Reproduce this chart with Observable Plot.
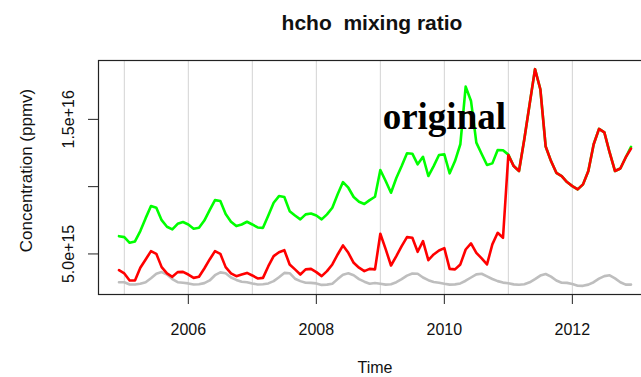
<!DOCTYPE html>
<html>
<head>
<meta charset="utf-8">
<script src="https://cdn.jsdelivr.net/npm/d3@7"></script>
<script src="https://cdn.jsdelivr.net/npm/@observablehq/plot@0.6"></script>
<style>
  body { margin: 0; background: #fff; }
  #chart { width: 641px; height: 377px; overflow: hidden; }
</style>
</head>
<body>
<div id="chart"></div>
<script>
// Monthly time series (ts start = Dec 2004, frequency 12); values in units of 1e15
const tsStartYear = 2004;
const tsStartMonth = 12;
const tsFrequency = 12;
const valueUnit = 1e15;

const greenSeries = [
  6.32, 6.25, 5.83, 5.93, 6.70, 7.66, 8.56, 8.43, 7.51, 7.02, 6.82, 7.24,
  7.37, 7.19, 6.87, 6.94, 7.48, 8.26, 9.00, 8.93, 7.96, 7.40, 7.07, 7.19,
  7.39, 7.19, 6.97, 6.94, 7.86, 8.80, 9.30, 9.23, 8.18, 7.86, 7.57, 7.94,
  8.01, 7.86, 7.57, 7.94, 8.43, 9.43, 10.34, 9.92, 9.23, 8.88, 8.71, 9.00,
  9.25, 11.24, 10.42, 9.55, 10.64, 11.53, 12.48, 12.45, 11.66, 12.22, 10.79, 11.53,
  12.35, 12.40, 10.99, 11.90, 13.15, 17.43, 16.37, 13.27, 12.43, 11.61, 11.73, 12.72,
  12.70, 12.38, 11.53, 11.16, 13.54, 16.15, 18.73, 17.24, 12.98, 11.90, 11.03, 10.79,
  10.34, 10.04, 9.80, 10.17, 11.16, 13.15, 14.29, 14.03, 12.52, 11.16, 11.35, 12.17,
  12.95
];

const redSeries = [
  3.79, 3.55, 3.03, 3.03, 3.97, 4.59, 5.21, 5.01, 4.02, 3.55, 3.30, 3.65,
  3.67, 3.47, 3.22, 3.30, 3.92, 4.59, 5.21, 5.01, 4.02, 3.55, 3.35, 3.47,
  3.59, 3.40, 3.18, 3.22, 4.09, 4.84, 5.13, 5.28, 4.22, 3.85, 3.47, 3.85,
  3.89, 3.65, 3.35, 3.72, 4.22, 4.96, 5.63, 5.08, 4.34, 3.98, 3.72, 3.89,
  3.85, 6.50, 5.36, 4.14, 4.84, 5.58, 6.25, 6.20, 5.16, 5.95, 4.54, 4.96,
  5.26, 5.43, 3.89, 3.85, 4.22, 5.33, 5.78, 5.08, 4.67, 4.22, 5.71, 6.57,
  6.20, 12.35, 11.53, 11.16, 13.54, 16.15, 18.73, 17.24, 12.98, 11.90, 11.03, 10.79,
  10.34, 10.04, 9.80, 10.17, 11.16, 13.15, 14.29, 14.03, 12.52, 11.16, 11.35, 12.17,
  12.83
];

const graySeries = [
  2.90, 2.90, 2.73, 2.73, 2.79, 2.90, 3.20, 3.53, 3.65, 3.47, 3.13, 2.90,
  2.86, 2.81, 2.73, 2.75, 2.83, 3.03, 3.42, 3.63, 3.57, 3.25, 3.07, 2.93,
  2.90, 2.81, 2.73, 2.75, 2.81, 2.98, 3.27, 3.59, 3.57, 3.16, 2.98, 2.86,
  2.85, 2.81, 2.70, 2.72, 2.78, 3.13, 3.46, 3.56, 3.42, 3.13, 2.94, 2.79,
  2.84, 2.78, 2.72, 2.75, 2.90, 3.13, 3.39, 3.55, 3.53, 3.25, 3.05, 2.92,
  2.86, 2.78, 2.72, 2.74, 2.81, 3.01, 3.25, 3.48, 3.53, 3.33, 3.14, 2.98,
  2.87, 2.82, 2.74, 2.71, 2.75, 2.89, 3.13, 3.39, 3.51, 3.31, 3.03, 2.86,
  2.85, 2.77, 2.64, 2.63, 2.72, 2.90, 3.16, 3.35, 3.41, 3.18, 2.90, 2.72,
  2.72
];

const xTicks = [2006, 2008, 2010, 2012];
const gridYears = [2005, 2006, 2007, 2008, 2009, 2010, 2011, 2012];
const yTicks = [5e15, 1e16, 1.5e16];
const yTickLabels = ["5.0e+15", "", "1.5e+16"];

const titleText = "hcho  mixing ratio";
const xLabelText = "Time";
const yLabelText = "Concentration (ppmv)";
const annotationText = "original";
const annotationX = 2010;
const annotationY = 1.5e16;

// build table
const t0 = tsStartYear + (tsStartMonth - 1) / tsFrequency;
const toRows = (vals) => vals.map((v, i) => ({ t: t0 + i / tsFrequency, v: v * valueUnit }));
const grayRows = toRows(graySeries);
const greenRows = toRows(greenSeries);
const redRows = toRows(redSeries);

// R-style 4% axis extension
const rExtend = ([a, b]) => { const d = (b - a) * 0.04; return [a - d, b + d]; };
const allRows = grayRows.concat(greenRows, redRows);
const xDomain = rExtend(d3.extent(allRows, d => d.t));
const yDomain = rExtend(d3.extent(allRows, d => d.v));

const sans = "Liberation Sans, Arial, Helvetica, sans-serif";

const chart = Plot.plot({
  width: 651,
  height: 377,
  marginLeft: 98,
  marginRight: 0,
  marginTop: 60,
  marginBottom: 83,
  style: { fontFamily: sans, maxWidth: "none", background: "#fff" },
  x: { domain: xDomain },
  y: { domain: yDomain },
  marks: [
    Plot.ruleX(gridYears, { stroke: "#d3d3d3", strokeWidth: 1 }),
    Plot.line(grayRows, { x: "t", y: "v", stroke: "#bebebe", strokeWidth: 2.6 }),
    Plot.line(greenRows, { x: "t", y: "v", stroke: "#00ff00", strokeWidth: 2.6 }),
    Plot.line(redRows, { x: "t", y: "v", stroke: "#ff0000", strokeWidth: 2.6 }),
    Plot.frame({ stroke: "#222", strokeWidth: 1.2 }),
    Plot.axisX({ ticks: xTicks, tickFormat: d => String(d), tickSize: 10, tickPadding: 19, fontSize: 16, label: null, stroke: "#222", color: "#111" }),
    Plot.axisY({ ticks: yTicks, tickFormat: () => "", tickSize: 10, label: null, stroke: "#222" }),
    Plot.text(yTicks.map((v, i) => ({ v, label: yTickLabels[i] })), {
      y: "v", text: "label", frameAnchor: "left", rotate: -90, dx: -25,
      lineAnchor: "bottom", textAnchor: "middle", fontSize: 16, fill: "#111"
    }),
    Plot.text([yLabelText], {
      text: d => d, frameAnchor: "left", rotate: -90, dx: -67, dy: -7,
      lineAnchor: "bottom", textAnchor: "middle", fontSize: 17, fill: "#111"
    }),
    Plot.text([xLabelText], {
      text: d => d, frameAnchor: "bottom", dy: 78, lineAnchor: "bottom",
      fontSize: 16, fill: "#111"
    }),
    Plot.text([titleText], {
      text: d => d, frameAnchor: "top", dy: -31, dx: -3, lineAnchor: "bottom",
      fontSize: 21, fontWeight: "bold", fill: "#111"
    }),
    Plot.text([{ x: annotationX, y: annotationY, label: annotationText }], {
      x: "x", y: "y", text: "label", lineAnchor: "middle", dy: -2,
      fontSize: 37, fontWeight: "bold", fontFamily: "Liberation Serif, Times New Roman, serif", fill: "#000"
    })
  ]
});
document.getElementById("chart").appendChild(chart);
</script>
</body>
</html>
